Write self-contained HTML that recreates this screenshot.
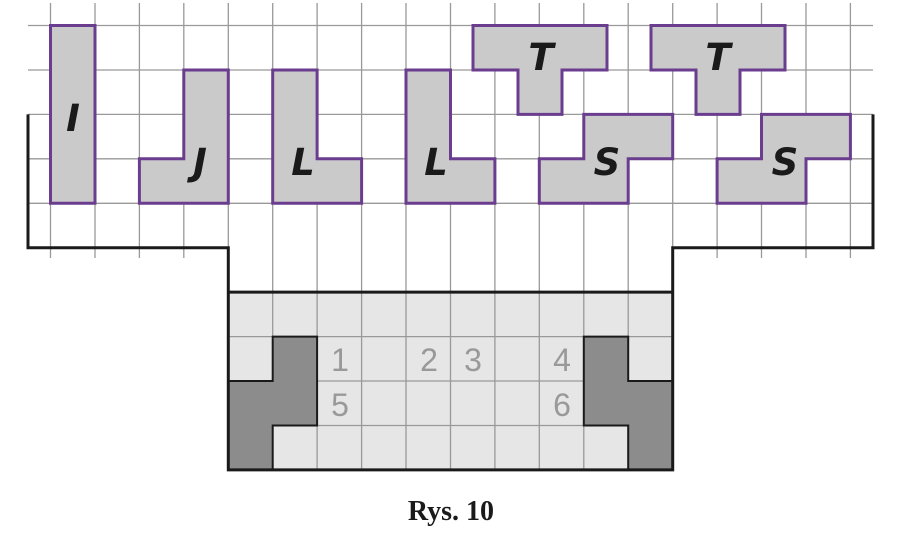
<!DOCTYPE html>
<html><head><meta charset="utf-8"><style>
html,body{margin:0;padding:0;background:#fff;}
svg{display:block;}
</style></head><body>
<svg width="900" height="545" viewBox="0 0 900 545" xmlns="http://www.w3.org/2000/svg">
<rect x="228.3" y="292.1" width="444.4" height="177.8" fill="#e6e6e6"/>
<g stroke="#999" stroke-width="1.3">
<line x1="28" y1="25.5" x2="873" y2="25.5"/>
<line x1="28" y1="70" x2="873" y2="70"/>
<line x1="28" y1="114.4" x2="873" y2="114.4"/>
<line x1="28" y1="158.8" x2="873" y2="158.8"/>
<line x1="28" y1="203.3" x2="873" y2="203.3"/>
<line x1="228.3" y1="336.6" x2="672.7" y2="336.6"/>
<line x1="228.3" y1="381" x2="672.7" y2="381"/>
<line x1="228.3" y1="425.5" x2="672.7" y2="425.5"/>
<line x1="50.5" y1="3" x2="50.5" y2="258"/>
<line x1="95" y1="3" x2="95" y2="258"/>
<line x1="139.4" y1="3" x2="139.4" y2="258"/>
<line x1="183.8" y1="3" x2="183.8" y2="258"/>
<line x1="228.3" y1="3" x2="228.3" y2="248"/>
<line x1="717.1" y1="3" x2="717.1" y2="258"/>
<line x1="761.5" y1="3" x2="761.5" y2="258"/>
<line x1="806" y1="3" x2="806" y2="258"/>
<line x1="850.4" y1="3" x2="850.4" y2="258"/>
<line x1="672.7" y1="3" x2="672.7" y2="248"/>
<line x1="272.7" y1="3" x2="272.7" y2="470"/>
<line x1="317.1" y1="3" x2="317.1" y2="470"/>
<line x1="361.6" y1="3" x2="361.6" y2="470"/>
<line x1="406" y1="3" x2="406" y2="470"/>
<line x1="450.5" y1="3" x2="450.5" y2="470"/>
<line x1="494.9" y1="3" x2="494.9" y2="470"/>
<line x1="539.3" y1="3" x2="539.3" y2="470"/>
<line x1="583.8" y1="3" x2="583.8" y2="470"/>
<line x1="628.2" y1="3" x2="628.2" y2="470"/>
</g>
<path d="M272.7,336.6H317.1V425.5H272.7V469.9H228.3V381H272.7Z" fill="#8c8c8c" stroke="#1a1a1a" stroke-width="2"/>
<path d="M583.8,336.6H628.2V381H672.7V469.9H628.2V425.5H583.8Z" fill="#8c8c8c" stroke="#1a1a1a" stroke-width="2"/>
<path d="M28,114.4V247.7H228.3V469.9H672.7V247.7H873V114.4" fill="none" stroke="#1a1a1a" stroke-width="3"/>
<line x1="228.3" y1="292.1" x2="672.7" y2="292.1" stroke="#1a1a1a" stroke-width="3"/>
<g fill="#cbcacb" stroke="#6a3d8f" stroke-width="3">
<path d="M50.5,25.5H95V203.3H50.5Z"/>
<path d="M183.8,70H228.3V203.3H139.4V158.8H183.8Z"/>
<path d="M272.7,70H317.1V158.8H361.6V203.3H272.7Z"/>
<path d="M406,70H450.5V158.8H494.9V203.3H406Z"/>
<path d="M473,25.5H607V70H562V114.4H518V70H473Z"/>
<path d="M651,25.5H785V70H740V114.4H696V70H651Z"/>
<path d="M583.8,114.4H672.7V158.8H628.2V203.3H539.3V158.8H583.8Z"/>
<path d="M761.5,114.4H850.4V158.8H806V203.3H717.1V158.8H761.5Z"/>
</g>
<g font-family="'DejaVu Sans','Liberation Sans',sans-serif" font-weight="bold" font-style="italic" font-size="37" fill="#1a1a1a" text-anchor="middle">
<text x="73" y="131">I</text>
<text x="200" y="175">J</text>
<text x="303" y="175">L</text>
<text x="436" y="175">L</text>
<text x="541" y="70">T</text>
<text x="718" y="70">T</text>
<text x="607" y="175">S</text>
<text x="785" y="175">S</text>
</g>
<g font-family="'Liberation Sans',sans-serif" font-size="32" fill="#999" text-anchor="middle">
<text x="340" y="371">1</text>
<text x="429" y="371">2</text>
<text x="473" y="371">3</text>
<text x="562" y="371">4</text>
<text x="340" y="416">5</text>
<text x="562" y="416">6</text>
</g>
<text x="451" y="520" font-family="'Liberation Serif',serif" font-weight="bold" font-size="28" fill="#1a1a1a" text-anchor="middle">Rys. 10</text>
</svg>
</body></html>
